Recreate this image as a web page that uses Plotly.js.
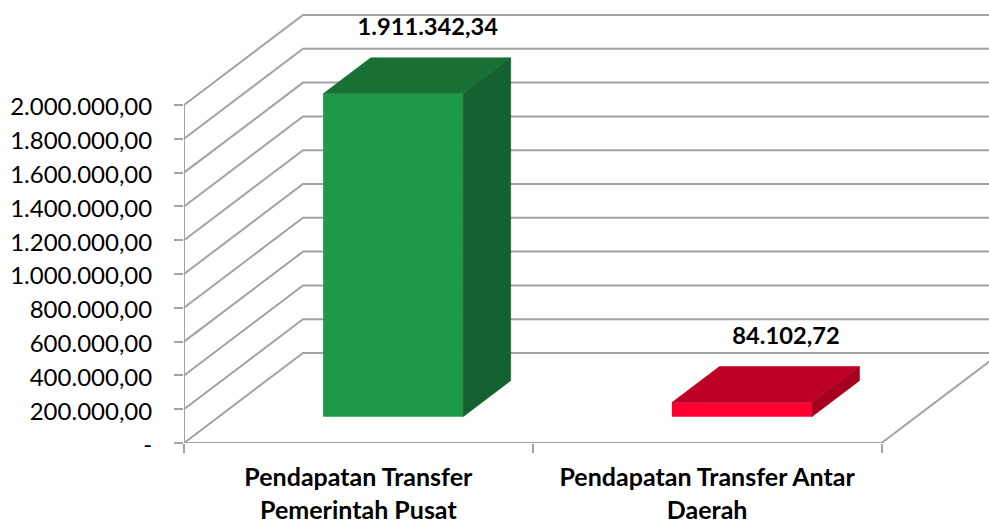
<!DOCTYPE html>
<html>
<head>
<meta charset="utf-8">
<script src="https://cdn.plot.ly/plotly-3.0.1.min.js"></script>
<style>html,body{margin:0;padding:0;background:#fff;overflow:hidden}#c{width:989px;height:523px}</style>
</head>
<body>
<div id="c"></div>
<script>
var categories = ['Pendapatan Transfer<br>Pemerintah Pusat', 'Pendapatan Transfer Antar<br>Daerah'];
var values = [1911342.34, 84102.72];
var valueLabels = ['1.911.342,34', '84.102,72'];
var axisValues = [0, 200000, 400000, 600000, 800000, 1000000, 1200000, 1400000, 1600000, 1800000, 2000000];
var axisLabels = ['-', '200.000,00', '400.000,00', '600.000,00', '800.000,00', '1.000.000,00', '1.200.000,00', '1.400.000,00', '1.600.000,00', '1.800.000,00', '2.000.000,00'];
var frontColors = ['#1E9A46', '#FF0033'];
var topColors = ['#187035', '#BE0026'];
var sideColors = ['#14602E', '#A5001F'];
var labelShift = [-0.037, -0.01];

var W = 989, H = 523, ML = 184, MB = 80;
var pxPerCat = 348.75, pxPerVal = 338 / 2000000;
var xMax = (W - ML) / pxPerCat, yMax = (H - MB) / pxPerVal;
var depthX = 119 / pxPerCat, depthY = 90 / pxPerVal;   // oblique projection of the chart depth
var dFront = 0.292, dBack = 0.692, barWidth = 140 / pxPerCat;
var grey = '#A3A3A3';

function proj(cx, v, d) { return [cx + d * depthX, v + d * depthY]; }
function poly(points, color) {
  return {type: 'scatter', mode: 'lines', fill: 'toself', fillcolor: color,
    x: points.map(function (p) { return p[0]; }), y: points.map(function (p) { return p[1]; }),
    line: {color: color, width: 0.5}, hoverinfo: 'skip', showlegend: false};
}

var shapes = axisValues.map(function (v) {
  var a = proj(0, v, 0), b = proj(0, v, 1);
  return {type: 'path', layer: 'below', xref: 'x', yref: 'y',
    path: 'M' + a[0] + ',' + a[1] + ' L' + b[0] + ',' + b[1] + ' L' + (xMax + 1) + ',' + b[1],
    line: {color: grey, width: 2}};
});

var traces = [];
// front faces as a real bar trace
traces.push({type: 'bar',
  x: values.map(function (_, i) { return i + 0.5 + dFront * depthX; }),
  y: values,
  base: values.map(function () { return dFront * depthY; }),
  width: barWidth, marker: {color: frontColors, line: {width: 0}},
  hoverinfo: 'skip', showlegend: false});

values.forEach(function (v, i) {
  var l = i + 0.5 - barWidth / 2, r = i + 0.5 + barWidth / 2;
  traces.push(poly([proj(l, v, dFront), proj(r, v, dFront), proj(r, v, dBack), proj(l, v, dBack), proj(l, v, dFront)], topColors[i]));
  traces.push(poly([proj(r, 0, dFront), proj(r, v, dFront), proj(r, v, dBack), proj(r, 0, dBack), proj(r, 0, dFront)], sideColors[i]));
});

// front axis lines and the floor edge
var end = proj(categories.length, 0, 1);
traces.push({type: 'scatter', mode: 'lines', cliponaxis: false,
  x: [0, 0, categories.length, end[0]], y: [2000000, 0, 0, end[1]],
  line: {color: grey, width: 2}, hoverinfo: 'skip', showlegend: false});

// value labels
traces.push({type: 'scatter', mode: 'text', cliponaxis: false,
  x: values.map(function (v, i) { return proj(i + 0.5, v, dBack)[0] + labelShift[i]; }),
  y: values.map(function (v) { return proj(0, v, dBack)[1] + 28.5 / pxPerVal; }),
  text: valueLabels, textposition: 'middle center',
  textfont: {family: 'Lato, sans-serif', size: 23.7, color: '#000', weight: 700},
  hoverinfo: 'skip', showlegend: false});

var layout = {
  width: W, height: H, showlegend: false, barmode: 'overlay',
  paper_bgcolor: '#fff', plot_bgcolor: '#fff',
  margin: {l: ML, r: 0, t: 0, b: MB, pad: 0},
  shapes: shapes,
  xaxis: {range: [0, xMax], showgrid: false, zeroline: false, showline: false,
    tickmode: 'array', tickvals: categories.map(function (_, i) { return i + 0.5; }),
    ticktext: categories,
    ticks: '', ticklabelstandoff: 17, tickangle: 0,
    tickfont: {family: 'Lato, sans-serif', size: 25, color: '#000', weight: 700},
    minor: {tickmode: 'array', tickvals: [0, 1, 2], ticks: 'outside', ticklen: 9, tickwidth: 2, tickcolor: grey, showgrid: false}},
  yaxis: {range: [0, yMax], showgrid: false, zeroline: false, showline: false,
    tickmode: 'array', tickvals: axisValues, ticktext: axisLabels,
    ticks: 'outside', ticklen: 9, tickwidth: 2, tickcolor: grey, ticklabelstandoff: 17, ticklabelshift: 2,
    tickfont: {family: 'Lato, sans-serif', size: 24, color: '#000'}}
};
Plotly.newPlot('c', traces, layout, {displayModeBar: false, staticPlot: true});
</script>
</body>
</html>
